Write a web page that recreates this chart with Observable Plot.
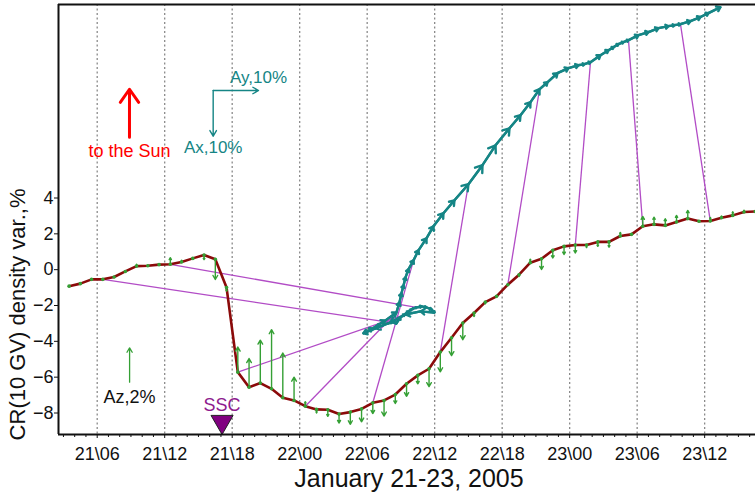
<!DOCTYPE html>
<html>
<head>
<meta charset="utf-8">
<script src="https://cdn.jsdelivr.net/npm/d3@7"></script>
<script src="https://cdn.jsdelivr.net/npm/@observablehq/plot@0.6"></script>
<style>
  html, body { margin: 0; padding: 0; background: #fff; }
  #chart svg { display: block; }
</style>
</head>
<body>
<div id="chart"></div>
<script>
// hourly time (hours from 21 Jan 00 UT)
const hours = [3.5,4.5,5.5,6.5,7.5,8.5,9.5,10.5,11.5,12.5,13.5,14.5,15.5,16.5,17.5,18.5,19.5,20.5,21.5,22.5,23.5,24.5,25.5,26.5,27.5,28.5,29.5,30.5,31.5,32.5,33.5,34.5,35.5,36.5,37.5,38.5,39.5,40.5,41.5,42.5,43.5,44.5,45.5,46.5,47.5,48.5,49.5,50.5,51.5,52.5,53.5,54.5,55.5,56.5,57.5,58.5,59.5,60.5,61.5,62.5,63.5,64.5];
// CR density variation, %
const density = [-0.92,-0.78,-0.54,-0.54,-0.41,-0.1,0.2,0.22,0.28,0.3,0.43,0.63,0.82,0.58,-1.0,-5.72,-6.56,-6.33,-6.65,-7.15,-7.3,-7.62,-7.8,-7.82,-8.06,-7.95,-7.77,-7.43,-7.3,-6.97,-6.37,-5.9,-5.53,-4.6,-3.8,-2.98,-2.42,-1.81,-1.49,-0.84,-0.28,0.39,0.61,1.08,1.3,1.38,1.38,1.55,1.55,1.88,1.97,2.42,2.53,2.47,2.66,2.85,2.7,2.72,2.9,3.03,3.22,3.25];
// north-south anisotropy component Az, %
const az = [0,0,0,0,0,0,0.1,0,0,0.37,0.1,0,-0.26,-1.13,-0.2,1.4,1.6,2.4,3.3,2.5,1.3,0.25,-0.2,-0.37,-0.5,-0.68,-0.72,-0.6,-0.87,-0.5,-0.7,-0.47,-1.0,-1.1,-1.0,-0.93,-0.2,-0.1,0,0,-0.1,0.2,-0.6,-0.43,-0.45,-0.45,-0.15,-0.25,-0.3,0.2,0,0.55,0.4,0.37,0.37,0.46,0,0.2,0.1,0.2,0.1,0];
// equatorial anisotropy vector diagram (Axy), in chart units
const hodoX = [31.89,32.16,32.34,32.6,32.96,33.32,33.67,33.94,34.12,34.38,34.83,35.27,35.72,35.98,34.74,33.41,32.07,30.74,29.67,30.47,31.63,32.6,32.87,33.05,33.23,33.41,33.67,34.12,34.56,35.27,35.89,36.78,37.76,39.0,40.25,41.41,42.65,43.63,44.52,45.32,46.03,46.92,47.89,48.78,49.32,49.85,50.74,51.45,51.9,52.34,52.78,53.23,54.12,55.01,55.9,56.78,57.32,57.85,58.74,59.63,60.34,61.4];
const hodoY = [-3.0,-2.94,-2.89,-3.0,-2.66,-2.5,-2.33,-2.22,-2.16,-2.11,-2.05,-2.11,-2.22,-2.39,-2.33,-2.5,-2.94,-3.28,-3.55,-3.28,-2.83,-2.39,-1.83,-1.32,-0.88,-0.43,0.02,0.52,1.08,1.75,2.42,3.15,3.87,4.77,5.83,6.94,7.89,8.62,9.35,10.07,10.46,10.97,11.25,11.41,11.47,11.58,11.97,12.25,12.42,12.59,12.7,12.81,13.09,13.26,13.48,13.59,13.65,13.7,13.87,14.1,14.32,14.65];
// hours joined to the vector diagram
const linkHours = [6.5,12.5,18.5,24.5,30.5,36.5,42.5,48.5,54.5,60.5];
const xTicks = [6,12,18,24,30,36,42,48,54,60];
const xTickLabels = ["21\\06","21\\12","21\\18","22\\00","22\\06","22\\12","22\\18","23\\00","23\\06","23\\12"];
const minorTicks = [3,4,5,7,8,9,10,11,13,14,15,16,17,19,20,21,22,23,25,26,27,28,29,31,32,33,34,35,37,38,39,40,41,43,44,45,46,47,49,50,51,52,53,55,56,57,58,59,61,62,63,64];
const yTicks = [-8,-6,-4,-2,0,2,4];
const sscTime = 17.1;

const xDomain = [2.56, 64.52];
const yDomain = [-9.2, 14.8];

const rows = hours.map((h, i) => ({h, v: density[i], az: az[i], hx: hodoX[i], hy: hodoY[i]}));
const segs = rows.slice(1).map((d, i) => ({x1: rows[i].hx, y1: rows[i].hy, x2: d.hx, y2: d.hy}));
const links = rows.filter(d => linkHours.includes(d.h));

const teal = "#158585";
const green = "#35a035";
const magenta = "#b24cc6";
const font = "'Liberation Sans', Arial, sans-serif";

const chart = Plot.plot({
  width: 755,
  height: 496,
  marginLeft: 58,
  marginRight: 0,
  marginTop: 4,
  marginBottom: 62,
  style: {fontFamily: font, fontSize: "18px", background: "#fff", color: "#111"},
  x: {domain: xDomain, axis: null},
  y: {domain: yDomain, axis: null},
  marks: [
    Plot.ruleX(xTicks, {stroke: "#8a8a8a", strokeWidth: 1.3, strokeDasharray: "2,2.5"}),
    Plot.link(links, {x1: "h", y1: "v", x2: "hx", y2: "hy", stroke: magenta, strokeWidth: 1.3}),
    Plot.line(rows, {x: "hx", y: "hy", stroke: teal, strokeWidth: 2.3}),
    Plot.arrow(segs, {x1: "x1", y1: "y1", x2: "x2", y2: "y2", stroke: teal, strokeWidth: 2.4, headLength: 8, headAngle: 70}),
    Plot.line(rows, {x: "h", y: "v", stroke: "#8b0a0a", strokeWidth: 2.6}),
    Plot.arrow(rows.filter(d => Math.abs(d.az) >= 0.1), {x1: "h", y1: "v", x2: "h", y2: d => d.v + d.az, stroke: green, strokeWidth: 1.4, headLength: 5}),
    Plot.dot(rows, {x: "h", y: "v", r: 1.8, fill: green}),
    // legend: direction to the Sun
    Plot.arrow([0], {x1: 8.87, y1: 7.39, x2: 8.87, y2: 10.07, stroke: "#ff0000", strokeWidth: 3, headLength: 10, headAngle: 70}),
    Plot.text(["to the Sun"], {x: 8.87, y: 6.6, text: d => d, fill: "#ff0000", fontSize: 18}),
    // legend: Ax, Ay scale
    Plot.arrow([0], {x1: 16.31, y1: 10.0, x2: 20.34, y2: 10.0, stroke: teal, strokeWidth: 1.4, headLength: 7}),
    Plot.arrow([0], {x1: 16.31, y1: 10.0, x2: 16.31, y2: 7.45, stroke: teal, strokeWidth: 1.4, headLength: 7}),
    Plot.text(["Ay,10%"], {x: 20.34, y: 10.73, text: d => d, fill: teal, fontSize: 17}),
    Plot.text(["Ax,10%"], {x: 16.31, y: 6.83, text: d => d, fill: teal, fontSize: 17}),
    // legend: Az scale
    Plot.arrow([0], {x1: 8.88, y1: -6.28, x2: 8.88, y2: -4.36, stroke: green, strokeWidth: 1.3, headLength: 6}),
    Plot.text(["Az,2%"], {x: 8.88, y: -7.12, text: d => d, fill: "#111", fontSize: 18}),
    // SSC marker
    Plot.dot([sscTime], {x: d => d, y: -8.49, symbol: "triangle", rotate: 180, r: 8.2, fill: "#800080", stroke: "#222", strokeWidth: 1}),
    Plot.text(["SSC"], {x: sscTime, y: -7.58, text: d => d, fill: "#8e1a8e", fontSize: 18}),
    // axes and frame
    Plot.axisX({ticks: minorTicks, tickSize: 3, tickFormat: () => "", label: null}),
    Plot.axisX({ticks: xTicks, tickSize: 4, tickPadding: 9, tickFormat: d => xTickLabels[xTicks.indexOf(d)], label: null, fontSize: 18}),
    Plot.axisY({ticks: yTicks, tickSize: 4, tickPadding: 1, label: null, fontSize: 18}),
    Plot.ruleX([xDomain[0]], {stroke: "#111", strokeWidth: 2}),
    Plot.ruleY([yDomain[0]], {stroke: "#111", strokeWidth: 2}),
    Plot.ruleY([yDomain[1]], {stroke: "#111", strokeWidth: 2}),
    Plot.text(["CR(10 GV) density var.,%"], {x: xDomain[0], y: -2.5, text: d => d, rotate: -90, dx: -41, fontSize: 22, textAnchor: "middle", lineAnchor: "middle", fill: "#111"}),
    Plot.text(["January 21-23, 2005"], {frameAnchor: "bottom", text: d => d, dy: 44, dx: 2, fontSize: 25, lineAnchor: "middle", fill: "#111"})
  ]
});
document.getElementById("chart").appendChild(chart);
</script>
</body>
</html>
